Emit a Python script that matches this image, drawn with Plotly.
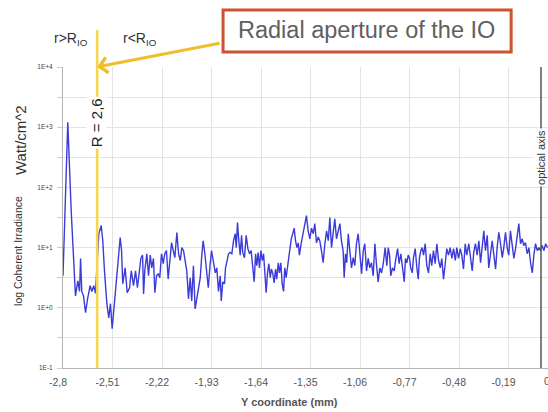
import plotly.graph_objects as go

# ---- data ----
y_coord_mm = [
    -2.800, -2.772, -2.752, -2.738, -2.727, -2.713, -2.703, -2.697, -2.690, -2.680,
    -2.668, -2.656, -2.641, -2.631, -2.620, -2.610, -2.590, -2.576, -2.567, -2.557,
    -2.543, -2.532, -2.522, -2.512, -2.502, -2.488, -2.475, -2.465, -2.457, -2.450,
    -2.436, -2.424, -2.410, -2.400, -2.387, -2.375, -2.364,
    -2.354, -2.344, -2.334, -2.328, -2.321, -2.309, -2.299, -2.289, -2.280, -2.270,
    -2.262, -2.252, -2.242, -2.233, -2.223, -2.213, -2.204, -2.194, -2.184, -2.174,
    -2.164, -2.154, -2.145, -2.133, -2.123, -2.113, -2.104, -2.094, -2.084, -2.075,
    -2.065, -2.055, -2.046, -2.036, -2.026, -2.016, -2.006, -1.996, -1.987, -1.979,
    -1.969, -1.959, -1.949, -1.940, -1.930, -1.918, -1.908, -1.899, -1.889, -1.879,
    -1.873, -1.864, -1.854, -1.848, -1.840, -1.830, -1.821, -1.811, -1.801, -1.791,
    -1.785, -1.778, -1.770, -1.762, -1.754, -1.747, -1.737, -1.727, -1.717, -1.707,
    -1.698, -1.688, -1.680, -1.672, -1.665, -1.657, -1.649, -1.641, -1.633, -1.625,
    -1.618, -1.610, -1.602, -1.594, -1.586, -1.579, -1.571, -1.563, -1.555, -1.548,
    -1.539, -1.532, -1.524, -1.516, -1.508, -1.501, -1.493, -1.483, -1.473, -1.463,
    -1.454, -1.446, -1.438, -1.430, -1.422, -1.415, -1.405, -1.395,
    -1.384, -1.374, -1.364, -1.354, -1.344, -1.334, -1.325, -1.315, -1.305, -1.296,
    -1.286, -1.276, -1.266, -1.256, -1.246, -1.237, -1.227, -1.217, -1.208, -1.198,
    -1.188, -1.178, -1.169, -1.159, -1.153, -1.145, -1.138, -1.129, -1.120, -1.110,
    -1.100, -1.091, -1.081, -1.071, -1.061, -1.051, -1.041, -1.032, -1.022, -1.012,
    -1.003, -0.993, -0.983, -0.973, -0.964, -0.954, -0.944, -0.934, -0.924,
    -0.913, -0.903, -0.895, -0.887, -0.880, -0.870, -0.860, -0.850, -0.840, -0.831,
    -0.821, -0.811, -0.801, -0.794, -0.786, -0.778, -0.770, -0.763, -0.754, -0.747,
    -0.737, -0.727, -0.719, -0.712, -0.704, -0.696, -0.688, -0.678, -0.669, -0.659,
    -0.649, -0.640, -0.630, -0.620, -0.610, -0.600, -0.590, -0.581, -0.571, -0.561,
    -0.552, -0.542, -0.532, -0.522, -0.512, -0.502, -0.493, -0.483, -0.473, -0.464,
    -0.454, -0.444, -0.435,
    -0.423, -0.413, -0.403, -0.394, -0.384, -0.374, -0.364, -0.354, -0.344, -0.335,
    -0.325, -0.315, -0.306, -0.296, -0.286, -0.276, -0.266, -0.257, -0.247, -0.237,
    -0.227, -0.218, -0.208, -0.198, -0.189, -0.179, -0.169, -0.159, -0.149, -0.139,
    -0.130, -0.120, -0.110, -0.101, -0.091, -0.081, -0.071, -0.061, -0.051, -0.042,
    -0.032, -0.022, -0.013, -0.003, 0.007, 0.017, 0.027, 0.038,
]

irradiance = [
    3.4, 1211, 41, 4.6, 1.58, 2.8, 1.87, 6.6, 1.87, 1.58,
    0.83, 1.41, 2.33, 1.87, 2.33, 1.73, 17.1, 23.3, 13, 4.1,
    1.17, 0.68, 1.17, 0.45, 0.89, 2.5, 6.1, 14.7, 8.9, 2.5,
    4.6, 1.78, 2.15, 4.1, 2.33, 4.1, 2.15,
    4.1, 6.6, 7.5, 1.7, 4.1, 7.9, 3.4, 7.5, 4.6, 6.6,
    1.78, 3.4, 3.7, 3.16, 7.9, 5.4, 7.9, 8.9, 3.0, 6.6,
    12.1, 8.9, 6.8, 17.8, 7.9, 6.1, 10, 8.9, 5.4, 4.1,
    1.41, 3.16, 1.3, 5.0, 0.96, 1.47, 1.87, 3.16, 7.5, 13,
    7.9, 4.6, 2.15, 4.6, 8.9, 5.6, 3.8, 4.6, 1.87, 3.4,
    1.3, 2.7, 2.5, 4.6, 6.1, 7.9, 8.3, 7.9, 13, 17,
    10, 26, 13, 7.5, 16, 8.3, 6.8, 16, 9.6, 7.9,
    8.9, 4.4, 2.7, 7.9, 5.0, 8.3, 4.6, 8.9, 6.1, 7.9,
    3.4, 1.78, 3.8, 5.4, 3.16, 4.4, 3.7, 2.6, 4.4, 3.0,
    5.6, 3.8, 5.6, 2.5, 1.87, 4.6, 3.16, 5.0, 7.9, 14,
    17, 21, 13, 10, 12, 7.5, 11.6, 17,
    23, 34, 19, 14, 21, 17, 25, 12, 15, 13,
    8.9, 5.6, 11.6, 19, 13, 31.6, 10, 17, 30, 14,
    18, 25, 13, 8.9, 3.16, 7.9, 5.6, 17, 8.9, 4.6,
    6.8, 5.0, 11.6, 17, 7.9, 3.7, 8.9, 11.6, 4.1, 6.6,
    4.6, 5.6, 3.4, 11.6, 5.4, 2.7, 4.6, 3.8, 5.4,
    10, 5.0, 10, 7.5, 3.4, 4.6, 4.1, 6.6, 9.6, 5.4,
    7.9, 4.6, 2.7, 6.6, 5.6, 7.5, 6.6, 4.6, 3.8, 6.8,
    9.6, 4.6, 3.0, 6.8, 8.9, 10, 7.5, 11.6, 5.0, 3.8,
    7.9, 5.0, 8.9, 5.4, 11.6, 6.1, 4.6, 6.6, 3.0, 5.4,
    9.6, 7.5, 10, 6.6, 9.6, 6.1, 10, 6.6, 9.6, 7.5,
    4.4, 11.6, 7.5,
    11.6, 6.6, 4.1, 8.3, 11.6, 7.5, 13, 5.6, 10.8, 19,
    8.9, 16, 4.6, 8.3, 13, 7.5, 4.4, 10, 18, 11.6,
    6.8, 10, 18, 10, 7.5, 19, 11.6, 6.6, 9.6, 17,
    25, 11.6, 14, 10.8, 12.1, 7.9, 10, 5.6, 3.8, 7.5,
    11.6, 8.9, 10, 8.9, 10.8, 8.9, 11.6, 10,
]

x_tick_vals = [-2.8, -2.51, -2.22, -1.93, -1.64, -1.35, -1.06, -0.77, -0.48, -0.19]
x_tick_text = ["-2,8", "-2,51", "-2,22", "-1,93", "-1,64", "-1,35", "-1,06", "-0,77", "-0,48", "-0,19"]
x_last_tick_text = "0,1"          # last label, mostly cut off at the right edge
y_tick_vals = [0.1, 1, 10, 100, 1000, 10000]
y_tick_text = ["1E-1", "1E+0", "1E+1", "1E+2", "1E+3", "1E+4"]
y_minor_vals = [0.316, 3.16, 31.6, 316, 3160]

R_IO = -2.6
optical_axis = 0.0

FONT = "Liberation Sans, Arial, sans-serif"

fig = go.Figure()
fig.add_trace(go.Scatter(
    x=y_coord_mm, y=irradiance, mode="lines",
    line=dict(color="#3b3bd9", width=1.4),
    showlegend=False, hoverinfo="skip",
))

fig.update_layout(
    width=548, height=412,
    margin=dict(l=63, r=0, t=67, b=44),
    paper_bgcolor="white", plot_bgcolor="white",
    font=dict(family=FONT, color="#555555"),
    xaxis=dict(
        range=[-2.8, 0.041], tickvals=x_tick_vals, ticktext=x_tick_text,
        showgrid=True, gridcolor="#e4e4e4", gridwidth=1,
        showline=True, linecolor="#b5b5b5", linewidth=1,
        ticks="", tickfont=dict(size=10.5, color="#555555"),
        ticklabelshift=-5, ticklabelstandoff=4, zeroline=False,
    ),
    yaxis=dict(
        type="log", range=[-1, 4], tickvals=y_tick_vals, ticktext=y_tick_text,
        showgrid=True, gridcolor="#e4e4e4", gridwidth=1,
        showline=True, linecolor="#b5b5b5", linewidth=1,
        ticks="outside", ticklen=5, tickcolor="#cccccc",
        tickfont=dict(size=6.5, color="#444444"), zeroline=False,
        ticklabelstandoff=3,
        minor=dict(tickvals=y_minor_vals, showgrid=True, gridcolor="#e4e4e4",
                   ticks="outside", ticklen=5, tickcolor="#cccccc"),
    ),
)

# yellow R_IO line
fig.add_shape(type="line", xref="x", yref="paper", x0=R_IO, x1=R_IO, y0=0, y1=1.123,
              line=dict(color="#F5D64C", width=2.6), layer="above")
# optical axis line
fig.add_shape(type="line", xref="x", yref="paper", x0=optical_axis, x1=optical_axis, y0=0, y1=1.0,
              line=dict(color="#555555", width=1.5), layer="above")
# title box
fig.add_shape(type="rect", xref="paper", yref="paper", x0=0.330, x1=0.924, y0=1.050, y1=1.189,
              line=dict(color="#C9542F", width=3), fillcolor="white", layer="above")

C = dict(xanchor="center", yanchor="middle", showarrow=False)
annots = [
    dict(text="Radial aperture of the IO", xref="paper", yref="paper", x=0.626, y=1.122,
         font=dict(size=23.5, color="#5f5f5f", family=FONT), **C),
    dict(text="R = 2,6", xref="x", yref="paper", x=R_IO, y=0.814, textangle=-90,
         bgcolor="white", borderpad=1, font=dict(size=15, color="#222222", family=FONT), **C),
    dict(text="optical axis", xref="x", yref="paper", x=optical_axis, y=0.698, textangle=-90,
         bgcolor="white", borderpad=1, font=dict(size=11, color="#333333", family=FONT), **C),
    dict(text="r&gt;R<sub>IO</sub>", xref="paper", yref="paper", x=0.0165, y=1.093,
         font=dict(size=14, color="#333333", family=FONT), **C),
    dict(text="r&lt;R<sub>IO</sub>", xref="paper", yref="paper", x=0.159, y=1.093,
         font=dict(size=14, color="#333333", family=FONT), **C),
    dict(text="Watt/cm^2", xref="paper", yref="paper", x=-0.0887, y=0.757, textangle=-90,
         font=dict(size=15, color="#333333", family=FONT), **C),
    dict(text="log Coherent Irradiance", xref="paper", yref="paper", x=-0.0928, y=0.389,
         textangle=-90, font=dict(size=10.5, color="#333333", family=FONT), **C),
    dict(text="<b>Y coordinate (mm)</b>", xref="paper", yref="paper", x=0.467, y=-0.113,
         font=dict(size=11, color="#555555", family=FONT), **C),
    dict(text=x_last_tick_text, xref="paper", yref="paper", x=1.008, y=-0.043,
         font=dict(size=10.5, color="#555555", family=FONT), **C),
]
for a in annots:
    fig.add_annotation(**a)

fig.add_annotation(text="", xref="x", yref="paper", x=R_IO, y=1.0, ax=124, ay=-24,
                   showarrow=True, arrowcolor="#F0BE2C", arrowwidth=3, arrowhead=4, arrowsize=1)

fig.write_html("out.html")
